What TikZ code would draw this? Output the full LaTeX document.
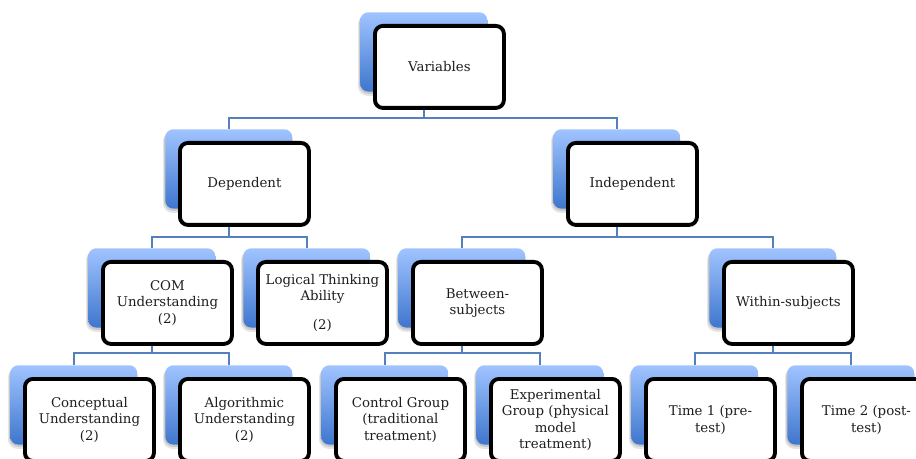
\documentclass[tikz,border=0pt]{standalone}
\usepackage{fontspec}
\setmainfont{DejaVu Serif}
\usetikzlibrary{calc,backgrounds}

\definecolor{boxtop}{RGB}{160,196,255}
\definecolor{boxbot}{RGB}{62,118,206}
\definecolor{linkblue}{RGB}{84,128,190}
\definecolor{inktext}{RGB}{30,30,30}

\tikzset{
  bluebox/.style={rounded corners=6pt, minimum width=95.25pt, minimum height=59.5pt,
    inner sep=0pt, top color=boxtop, bottom color=boxbot, draw=none},
  whitebox/.style={rounded corners=6pt, minimum width=96.75pt, minimum height=61.5pt,
    inner sep=0pt, fill=white, draw=black, line width=2.9pt, align=center,
    text=inktext, font=\fontsize{10pt}{12.4pt}\selectfont},
  softshadow/.style={fill=black, opacity=#1, rounded corners=7pt},
  link/.style={draw=linkblue, line width=1.1pt},
}

% one chart entry: a shaded back panel with a soft shadow and a framed card on top of it
\newcommand\chartentry[4]{%
  \node[bluebox, anchor=north west] (#1-b) at (#2,#3) {};
  \begin{pgfonlayer}{background}
    \fill[softshadow=0.10] ($(#1-b.north west)+(-2,3)$) rectangle ($(#1-b.south east)+(-1,4)$);
    \fill[softshadow=0.12] ($(#1-b.north west)+(-1,2)$) rectangle ($(#1-b.south east)+(0,2)$);
  \end{pgfonlayer}
  \node[whitebox, anchor=north west] (#1) at ($(#1-b.north west)+(13,12)$) {#4};
}

\begin{document}
\begin{tikzpicture}[x=0.75pt, y=-0.75pt]
\useasboundingbox (0,0) rectangle (916,459);
\begin{pgfonlayer}{background}
  \fill[white] (0,0) rectangle (916,459);
\end{pgfonlayer}

% level 0
\chartentry{var}{360}{12}{Variables}
% level 1
\chartentry{dep}{165}{129}{Dependent}
\chartentry{ind}{553}{129}{Independent}
% level 2
\chartentry{com}{88}{248}{COM\\Understanding\\(2)}
\chartentry{log}{243}{248}{Logical Thinking\\Ability\\[9pt](2)}
\chartentry{btw}{398}{248}{Between-\\subjects}
\chartentry{wth}{709}{248}{Within-subjects}
% level 3
\chartentry{con}{10}{365}{Conceptual\\Understanding\\(2)}
\chartentry{alg}{165}{365}{Algorithmic\\Understanding\\(2)}
\chartentry{ctl}{321}{365}{Control Group\\(traditional\\treatment)}
\chartentry{exp}{476}{365}{Experimental\\Group (physical\\model\\treatment)}
\chartentry{ta}{631}{365}{Time 1 (pre-\\test)}
\chartentry{tb}{787}{365}{Time 2 (post-\\test)}

% bus points where each parent's connector branches
\coordinate (var-bus) at ($(var-b.south)+(0,26)$);
\coordinate (dep-bus) at ($(dep-b.south)+(0,28)$);
\coordinate (ind-bus) at ($(ind-b.south)+(0,28)$);
\coordinate (com-bus) at ($(com-b.south)+(0,25)$);
\coordinate (btw-bus) at ($(btw-b.south)+(0,25)$);
\coordinate (wth-bus) at ($(wth-b.south)+(0,25)$);

\begin{pgfonlayer}{background}
  \foreach \p/\c in {var/dep, var/ind, dep/com, dep/log, ind/btw, ind/wth,
                     com/con, com/alg, btw/ctl, btw/exp, wth/ta, wth/tb}
    \draw[link] (\p-b.south) -- (\p-bus) -| (\c-b.north);
\end{pgfonlayer}
\end{tikzpicture}
\end{document}
